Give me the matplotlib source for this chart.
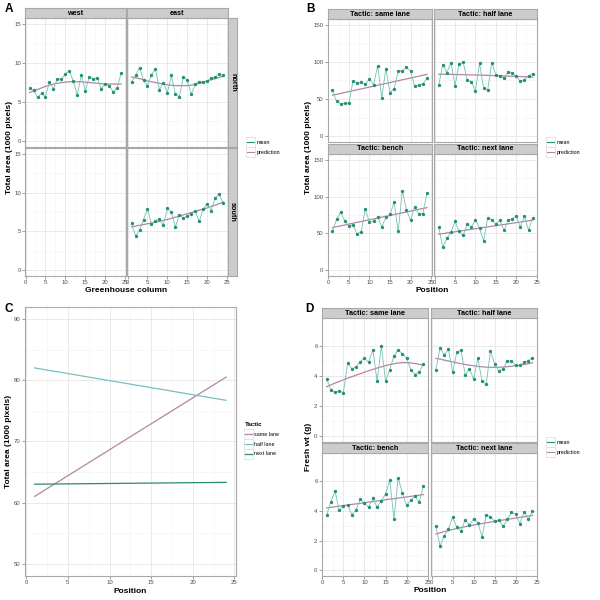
"""Four-panel figure: greenhouse position effects on plant area and fresh weight."""

import matplotlib

matplotlib.use("Agg")
import matplotlib.pyplot as plt
from matplotlib.lines import Line2D
from matplotlib.patches import Rectangle

plt.rcParams["font.family"] = ["Liberation Sans", "DejaVu Sans"]

positions = list(range(1, 25))

# --- A: total area by greenhouse column, facetted side x half -----------
a_west_north_mean = [6.8, 6.5, 5.6, 6.1, 5.7, 7.6, 6.7, 8.0, 7.9, 8.6, 9.0, 7.65,
                     5.9, 8.5, 6.4, 8.25, 8.0, 8.1, 6.7, 7.35, 7.1, 6.3, 6.8, 8.7]
a_west_north_pred = [6.2, 6.4, 6.6, 6.8, 7.0, 7.15, 7.3, 7.4, 7.5, 7.55, 7.6, 7.6,
                     7.6, 7.6, 7.55, 7.5, 7.45, 7.4, 7.35, 7.3, 7.3, 7.3, 7.3, 7.3]
a_east_north_mean = [7.6, 8.4, 9.4, 7.8, 7.05, 8.5, 9.25, 6.6, 7.5, 6.2, 8.4, 6.0,
                     5.7, 8.2, 7.8, 6.0, 7.3, 7.6, 7.6, 7.7, 8.1, 8.2, 8.55, 8.4]
a_east_north_pred = [8.2, 8.1, 8.0, 7.85, 7.7, 7.6, 7.5, 7.4, 7.3, 7.2, 7.15, 7.1,
                     7.1, 7.1, 7.1, 7.15, 7.25, 7.4, 7.55, 7.7, 7.85, 8.0, 8.15, 8.3]
a_east_south_mean = [6.05, 4.45, 5.15, 6.55, 7.95, 5.95, 6.4, 6.6, 5.85, 8.0, 7.5, 5.6,
                     7.15, 6.7, 7.05, 7.25, 7.6, 6.3, 7.9, 8.6, 7.7, 9.35, 9.8, 8.7]
a_east_south_pred = [5.6, 5.7, 5.8, 5.9, 6.0, 6.1, 6.2, 6.3, 6.45, 6.55, 6.7, 6.85,
                     7.0, 7.15, 7.3, 7.45, 7.6, 7.75, 7.9, 8.05, 8.25, 8.4, 8.6, 8.8]

# --- B: total area by position, facetted by tactic -----------------------
b_same_mean = [61.8, 46.6, 43.4, 43.9, 44.3, 73.9, 72.1, 72.5, 69.9, 77.0, 69.0, 94.5,
               51.9, 90.9, 58.2, 64.0, 87.3, 87.8, 92.3, 87.3, 67.2, 68.1, 70.3, 77.5]
b_same_pred = [55.0, 56.2, 57.4, 58.7, 59.9, 61.1, 62.3, 63.5, 64.7, 66.0, 67.2, 68.4,
               69.6, 70.8, 72.0, 73.3, 74.5, 75.7, 76.9, 78.1, 79.3, 80.6, 81.8, 83.0]
b_half_mean = [68.5, 96.3, 85.5, 99.0, 67.6, 97.2, 99.4, 75.2, 73.4, 60.9, 98.1, 64.9,
               62.2, 99.0, 82.4, 81.1, 78.4, 86.4, 85.1, 80.2, 73.9, 76.1, 80.6, 84.2]
b_half_pred = [83.2, 83.2, 83.1, 83.0, 82.9, 82.8, 82.7, 82.5, 82.4, 82.2, 82.1, 81.9,
               81.7, 81.5, 81.3, 81.1, 80.9, 80.7, 80.5, 80.3, 80.1, 79.9, 79.7, 79.5]
b_bench_mean = [53.3, 69.0, 78.8, 67.2, 59.6, 61.8, 49.3, 52.4, 82.8, 65.4, 66.3, 72.5,
                58.7, 72.1, 75.7, 92.3, 52.8, 107.5, 82.4, 67.6, 86.0, 76.6, 77.0, 104.8]
b_bench_pred = [58.0, 59.2, 60.3, 61.5, 62.7, 63.9, 65.0, 66.2, 67.4, 68.6, 69.7, 70.9,
                72.1, 73.3, 74.4, 75.6, 76.8, 78.0, 79.1, 80.3, 81.5, 82.7, 83.8, 85.0]
b_next_mean = [58.7, 31.3, 43.4, 51.5, 66.3, 52.8, 47.5, 63.1, 58.2, 68.5, 57.3, 39.9,
               71.2, 68.5, 62.2, 67.6, 54.2, 67.6, 69.9, 73.4, 58.7, 73.0, 54.6, 71.2]
b_next_pred = [49.0, 49.8, 50.7, 51.5, 52.3, 53.1, 54.0, 54.8, 55.6, 56.4, 57.3, 58.1,
               58.9, 59.7, 60.6, 61.4, 62.2, 63.0, 63.9, 64.7, 65.5, 66.3, 67.2, 68.0]

# --- C: fitted lines per tactic ------------------------------------------
c_positions = [1, 24]
c_tactics = ["same lane", "half lane", "next lane"]
c_fits = {
    "same lane": [61.0, 80.5],
    "half lane": [82.0, 76.7],
    "next lane": [63.0, 63.3],
}

# --- D: fresh weight by position, facetted by tactic ---------------------
d_same_mean = [3.84, 3.1, 2.92, 3.03, 2.9, 4.9, 4.5, 4.63, 4.97, 5.2, 4.94, 5.78,
               3.66, 6.02, 3.69, 4.43, 5.37, 5.75, 5.5, 5.2, 4.45, 4.11, 4.29, 4.83]
d_same_pred = [3.3, 3.42, 3.54, 3.65, 3.76, 3.87, 3.97, 4.07, 4.17, 4.27, 4.37, 4.46,
               4.55, 4.63, 4.71, 4.78, 4.84, 4.88, 4.91, 4.91, 4.89, 4.85, 4.8, 4.75]
d_half_mean = [4.45, 5.87, 5.44, 5.8, 4.27, 5.62, 5.75, 4.07, 4.49, 3.82, 5.21, 3.66,
               3.48, 5.71, 4.79, 4.36, 4.49, 5.03, 5.03, 4.72, 4.72, 4.92, 5.03, 5.24]
d_half_pred = [5.2, 5.15, 5.08, 5.02, 4.96, 4.9, 4.84, 4.79, 4.74, 4.7, 4.66, 4.63,
               4.61, 4.6, 4.6, 4.6, 4.62, 4.64, 4.67, 4.7, 4.74, 4.79, 4.84, 4.9]
d_bench_mean = [3.72, 4.59, 5.35, 4.05, 4.3, 4.41, 3.76, 4.05, 4.81, 4.5, 4.25, 4.86,
                4.25, 4.68, 5.14, 6.06, 3.47, 6.24, 5.19, 4.37, 4.72, 4.99, 4.61, 5.68]
d_bench_pred = [4.2, 4.24, 4.28, 4.32, 4.36, 4.4, 4.44, 4.47, 4.51, 4.55, 4.59, 4.63,
                4.67, 4.71, 4.75, 4.79, 4.82, 4.86, 4.9, 4.94, 4.98, 5.02, 5.06, 5.1]
d_next_mean = [2.98, 1.65, 2.32, 2.78, 3.59, 2.9, 2.65, 3.41, 3.05, 3.47, 3.21, 2.27,
               3.74, 3.61, 3.3, 3.41, 2.96, 3.43, 3.9, 3.79, 3.14, 3.94, 3.43, 3.99]
d_next_pred = [2.45, 2.53, 2.61, 2.68, 2.75, 2.82, 2.88, 2.94, 3.0, 3.05, 3.1, 3.15,
               3.2, 3.25, 3.3, 3.34, 3.39, 3.43, 3.48, 3.52, 3.57, 3.61, 3.66, 3.7]

MEAN_LINE = "#72c2b2"
MEAN_PT = "#23906f"
PRED = "#b286a6"
C_COLORS = {"same lane": "#b286a6", "half lane": "#78c0c0", "next lane": "#2a8a70"}
BORDER = "#a8a8a8"
STRIP = "#cccccc"
TICK_FS = 4.3
TITLE_FS = 6
W = H = 600


def rect(x0, y0, x1, y1):
    return [x0 / W, 1 - y1 / H, (x1 - x0) / W, (y1 - y0) / H]


def style(ax, xlim, ylim, yticks, xticks, show_x, show_y):
    ax.set_xlim(*xlim)
    ax.set_ylim(*ylim)
    ax.set_xticks(xticks)
    ax.set_yticks(yticks)
    ax.set_xticks([(a + b) / 2 for a, b in zip(xticks[:-1], xticks[1:])], minor=True)
    ax.set_yticks([(a + b) / 2 for a, b in zip(yticks[:-1], yticks[1:])], minor=True)
    ax.grid(which="major", color="#e2e2e2", lw=0.5)
    ax.grid(which="minor", color="#f1f1f1", lw=0.4)
    ax.set_axisbelow(True)
    for sp in ax.spines.values():
        sp.set_color(BORDER)
        sp.set_linewidth(0.8)
    ax.tick_params(which="major", length=2, width=0.5, color="#777777",
                   labelsize=TICK_FS, labelcolor="#4d4d4d", pad=1)
    ax.tick_params(which="minor", length=0)
    ax.tick_params(axis="x", labelbottom=show_x, bottom=show_x)
    ax.tick_params(axis="y", labelleft=show_y, left=show_y)


def strip(fig, box, label, rotate=False):
    sax = fig.add_axes(rect(*box))
    sax.set_facecolor(STRIP)
    sax.set_xticks([])
    sax.set_yticks([])
    for sp in sax.spines.values():
        sp.set_color(BORDER)
        sp.set_linewidth(0.8)
    sax.text(0.5, 0.5, label, transform=sax.transAxes, ha="center", va="center",
             fontsize=5.2, fontweight="bold", rotation=-90 if rotate else 0)


def facet(fig, box, mean, pred, xlim, ylim, yticks, show_x, show_y):
    ax = fig.add_axes(rect(*box))
    style(ax, xlim, ylim, yticks, [0, 5, 10, 15, 20, 25], show_x, show_y)
    if mean is not None:
        ax.plot(positions, pred, color=PRED, lw=0.9, zorder=2)
        ax.plot(positions, mean, color=MEAN_LINE, lw=0.6, zorder=3)
        ax.plot(positions, mean, "o", color=MEAN_PT, ms=2.4, mew=0, zorder=4)
    return ax


legends = []


def mean_pred_legend(fig, x, y):
    handles = [Line2D([], [], color=MEAN_PT, lw=0.8), Line2D([], [], color=PRED, lw=0.8)]
    legends.append(fig.legend(handles, ["mean", "prediction"], loc="upper left",
                              bbox_to_anchor=(x / W, 1 - y / H), frameon=False,
                              fontsize=3.9, handlelength=1.25, handletextpad=0.5,
                              labelspacing=0.9, borderaxespad=0, borderpad=0.15))


fig = plt.figure(figsize=(6, 6), dpi=100)
XLIM = (-0.15, 25.15)

# ---- Panel A ----
ylim_a = (-0.75, 15.75)
yt_a = [0, 5, 10, 15]
facet(fig, (25, 18.3, 125.7, 146.7), a_west_north_mean, a_west_north_pred, XLIM, ylim_a, yt_a, False, True)
facet(fig, (127, 18.3, 227.7, 146.7), a_east_north_mean, a_east_north_pred, XLIM, ylim_a, yt_a, False, False)
facet(fig, (25, 148.3, 125.7, 276), None, None, XLIM, ylim_a, yt_a, True, True)
facet(fig, (127, 148.3, 227.7, 276), a_east_south_mean, a_east_south_pred, XLIM, ylim_a, yt_a, True, False)
strip(fig, (25, 8.3, 125.7, 18.3), "west")
strip(fig, (127, 8.3, 227.7, 18.3), "east")
strip(fig, (227.7, 18.3, 237.3, 146.7), "north", rotate=True)
strip(fig, (227.7, 148.3, 237.3, 276), "south", rotate=True)
fig.text(126 / W, 1 - 291 / H, "Greenhouse column", ha="center", va="center",
         fontsize=TITLE_FS, fontweight="bold")
fig.text(10 / W, 1 - 147 / H, "Total area (1000 pixels)", ha="center", va="center",
         rotation=90, fontsize=TITLE_FS, fontweight="bold")
mean_pred_legend(fig, 246, 139)

# ---- Panel B ----
ylim_b = (-7.5, 157.5)
yt_b = [0, 50, 100, 150]
facet(fig, (327.7, 19, 431.7, 141.7), b_same_mean, b_same_pred, XLIM, ylim_b, yt_b, False, True)
facet(fig, (434, 19, 537.3, 141.7), b_half_mean, b_half_pred, XLIM, ylim_b, yt_b, False, False)
facet(fig, (327.7, 154, 431.7, 276), b_bench_mean, b_bench_pred, XLIM, ylim_b, yt_b, True, True)
facet(fig, (434, 154, 537.3, 276), b_next_mean, b_next_pred, XLIM, ylim_b, yt_b, True, False)
strip(fig, (327.7, 9, 431.7, 19), "Tactic: same lane")
strip(fig, (434, 9, 537.3, 19), "Tactic: half lane")
strip(fig, (327.7, 144, 431.7, 154), "Tactic: bench")
strip(fig, (434, 144, 537.3, 154), "Tactic: next lane")
fig.text(432 / W, 1 - 291 / H, "Position", ha="center", va="center",
         fontsize=TITLE_FS, fontweight="bold")
fig.text(309 / W, 1 - 147 / H, "Total area (1000 pixels)", ha="center", va="center",
         rotation=90, fontsize=TITLE_FS, fontweight="bold")
mean_pred_legend(fig, 546, 139)

# ---- Panel C ----
axc = fig.add_axes(rect(25, 306.7, 235.7, 576))
style(axc, XLIM, (48, 92), [50, 60, 70, 80, 90], [0, 5, 10, 15, 20, 25], True, True)
for tactic in c_tactics:
    axc.plot(c_positions, c_fits[tactic], color=C_COLORS[tactic], lw=0.9, label=tactic)
axc.set_xlabel("Position", fontsize=TITLE_FS, fontweight="bold", labelpad=2)
fig.text(9 / W, 1 - 441 / H, "Total area (1000 pixels)", ha="center", va="center",
         rotation=90, fontsize=TITLE_FS, fontweight="bold")
leg = fig.legend(*axc.get_legend_handles_labels(), loc="upper left",
                 bbox_to_anchor=(244 / W, 1 - 421 / H), frameon=False, fontsize=3.9,
                 title="Tactic", title_fontsize=4.5, handlelength=1.25,
                 handletextpad=0.5, labelspacing=0.9, borderaxespad=0, borderpad=0.15)
leg.get_title().set_fontweight("bold")
leg._legend_box.align = "left"
legends.append(leg)

# ---- Panel D ----
ylim_d = (-0.375, 7.875)
yt_d = [0, 2, 4, 6]
facet(fig, (321.7, 318.3, 428.3, 441.7), d_same_mean, d_same_pred, XLIM, ylim_d, yt_d, False, True)
facet(fig, (431, 318.3, 537.3, 441.7), d_half_mean, d_half_pred, XLIM, ylim_d, yt_d, False, False)
facet(fig, (321.7, 453.3, 428.3, 576), d_bench_mean, d_bench_pred, XLIM, ylim_d, yt_d, True, True)
facet(fig, (431, 453.3, 537.3, 576), d_next_mean, d_next_pred, XLIM, ylim_d, yt_d, True, False)
strip(fig, (321.7, 308.3, 428.3, 318.3), "Tactic: same lane")
strip(fig, (431, 308.3, 537.3, 318.3), "Tactic: half lane")
strip(fig, (321.7, 443.3, 428.3, 453.3), "Tactic: bench")
strip(fig, (431, 443.3, 537.3, 453.3), "Tactic: next lane")
fig.text(430 / W, 1 - 591 / H, "Position", ha="center", va="center",
         fontsize=TITLE_FS, fontweight="bold")
fig.text(309 / W, 1 - 447 / H, "Fresh wt (g)", ha="center", va="center",
         rotation=90, fontsize=TITLE_FS, fontweight="bold")
mean_pred_legend(fig, 546, 439)

# panel letters
for lab, x, y in [("A", 9, 9), ("B", 310, 9), ("C", 9, 309), ("D", 309, 309)]:
    fig.text(x / W, 1 - y / H, lab, ha="center", va="center", fontsize=8.5, fontweight="bold")

# light grey frames round each legend key, like ggplot's theme_bw keys
fig.canvas.draw()
renderer = fig.canvas.get_renderer()
for lg in legends:
    for h in lg.legend_handles:
        bb = h.get_window_extent(renderer)
        cy = (bb.y0 + bb.y1) / 2
        fig.patches.append(Rectangle(((bb.x0 - 1) / W, (cy - 5) / H), (bb.width + 2) / W,
                                     10 / H, transform=fig.transFigure, facecolor="white",
                                     edgecolor="#d9d9d9", lw=0.5, zorder=0))

fig.savefig("out.png", dpi=100)
